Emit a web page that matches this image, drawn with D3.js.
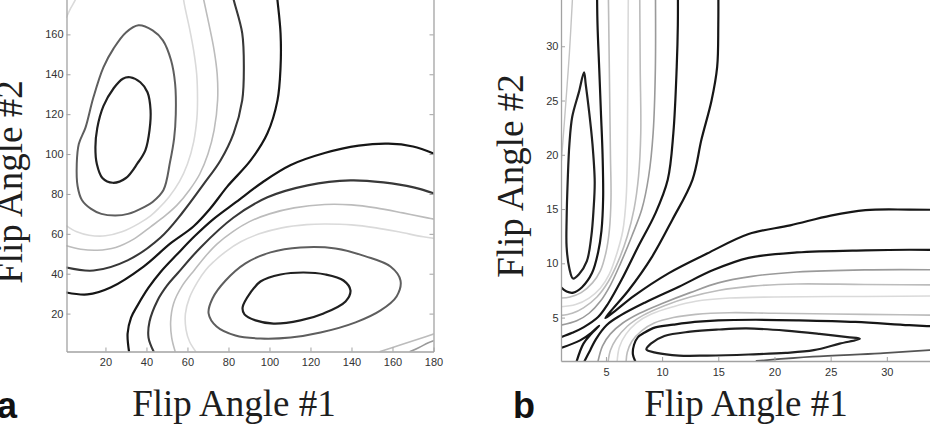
<!DOCTYPE html>
<html>
<head>
<meta charset="utf-8">
<script src="https://cdn.jsdelivr.net/npm/d3@7"></script>
<style>
  body { margin: 0; background: #fff; }
</style>
</head>
<body>
<div id="chart"></div>
<script>
// ---- panel a : contour lines, [flip angle #1, flip angle #2] in degrees ----
const aXTicks = [20, 40, 60, 80, 100, 120, 140, 160, 180];
const aYTicks = [20, 40, 60, 80, 100, 120, 140, 160];

// upper-left lobe
const aUpperInner = [[32,138.5],[37,136],[40.5,131],[42,122],[41.5,112],[39.5,102],[35.6,95.3],[30,88],[23.6,85.6],[18.5,88],[15.8,95],[15.1,103.4],[16,113],[19,124],[24,133],[28.5,137.8]];
const aUpperRing = [[36.1,164.6],[43,162],[48,157],[52,147],[54,135],[54.3,120],[53.5,108],[51.5,96],[48.3,82],[43,76],[38.6,73.3],[31,70],[24.9,69.2],[18,70],[13,72.5],[8.5,77],[6.4,84],[6,95],[7,105],[10.3,113.4],[14,128],[19,143.5],[24,153],[30,161]];
const aUpperPale = [[1,64],[6,61],[12,59.3],[20,59],[28,61],[36,65],[42,69],[46,72.8],[51,78.5],[56,86],[60,95],[63,106],[64.6,118],[64.9,127],[64.5,140],[63,152],[61,163],[58.5,175],[57.5,182]];
const aUpperPaleTop = [[1,168.6],[3,173],[5.4,177.5],[7,182]];
const aUpperLight = [[1,54],[8,52.3],[16,51.8],[25,53.2],[34,57.5],[42,63.5],[49.3,69.2],[55,74.5],[61,82],[66,90],[70,100],[73,112],[74.7,127],[74.5,140],[73,152],[70.5,165],[68,177],[67,182]];
const aUpperDark = [[1,43.1],[14.2,41.6],[30.8,46.7],[46.9,58.2],[57.6,70.7],[67.8,84.8],[76.1,96.8],[82.5,110.4],[86.7,126.9],[87.5,143.5],[86.7,160.6],[82.6,177.1],[81.5,182.1]];
const aUpperBlack = [[1,30.6],[11.2,29.6],[22.5,33.1],[38.6,43.6],[51.7,55.2],[62.9,63.7],[71.2,72.8],[79.5,83.8],[90.8,96.8],[99,110.4],[103.9,126.9],[105.4,143.5],[105.4,160.6],[103.9,177.1],[103.4,182.1]];

// lower-right lobe
const aLowerInner = [[86.9,23.1],[90.8,30.6],[95.6,36.1],[105.4,39.6],[116.6,40.6],[127.3,39.6],[136.1,36.6],[139.5,31.6],[137.1,26.1],[126.4,20.1],[115.1,16.6],[102,15],[93.2,16.6],[87.8,19.6]];
const aLowerRing = [[70.3,20.1],[72.2,27.6],[78.6,36.6],[88.3,45.2],[100.5,50.7],[115.1,53.2],[132.2,52.7],[146.9,48.7],[159,43.6],[163.9,36.6],[162,28.6],[154.2,21.6],[142,15.6],[124.9,10.5],[110.3,8],[95.6,7.5],[83.4,9],[74.2,13.5]];
const aLowerPale = [[64,1],[61,6],[59.3,12],[59,20],[61,28],[65,36],[69,42],[72.8,46],[78.5,51],[86,56],[95,60],[106,63],[118,64.6],[127,64.9],[140,64.5],[152,63],[163,61],[175,58.5],[182,57.5]];
const aLowerPaleCorner = [[168.6,1],[173,3],[177.5,5.4],[182,7]];
const aLowerLight = [[54,1],[52.3,8],[51.8,16],[53.2,25],[57.5,34],[63.5,42],[69.2,49.3],[74.5,55],[82,61],[90,66],[100,70],[112,73],[127,74.7],[140,74.5],[152,73],[165,70.5],[177,68],[182,67]];
const aLowerLightCorner = [[154,1],[163,4],[172,7],[182,10.5]];
const aLowerDark = [[43.5,1],[41,8],[41.5,16],[45.4,26.6],[50,34],[55.1,40.1],[66.4,53.2],[82.5,68.2],[99,78.3],[118.6,84.3],[139.5,86.8],[155.6,85.8],[170.3,83.3],[180,80.3]];
const aLowerBlack = [[31.5,1],[30.8,10],[32.5,18],[35.6,24],[41,33],[47,41],[55.2,50],[63.7,59],[72.8,67.5],[83.8,76],[96.8,86],[110.4,94.5],[126.9,100.5],[143.5,104.2],[158,105.2],[170,103.8],[180,100.3]];

// ---- panel b ----
const bXTicks = [5, 10, 15, 20, 25, 30];
const bYTicks = [5, 10, 15, 20, 25, 30];

// vertical lobe (small flip angle #1)
const bVertPeak = [[3.05,27.6],[2.6,25.8],[2.0,23.5],[1.75,21],[1.6,17.7],[1.5,14],[1.5,11.5],[1.75,9.5],[2.07,8.6],[2.6,9.0],[3.3,10.2],[3.7,12.5],[3.9,15],[4.0,17.5],[3.8,21],[3.5,24],[3.2,26.5]];
const bVertEdge = [[1,19],[1.3,23],[1.55,26.5],[1.75,29.4],[2.0,34],[2.1,36]];
const bVert2 = [[4.2,36],[4.25,32],[4.4,28],[4.55,24],[4.7,20],[4.75,16],[4.6,13],[4.3,11],[3.76,9.1],[2.87,7.8],[2.1,7.3],[1.5,7.4],[1,7.8]];
const bVertA = [[5.2,36],[5.3,28],[5.4,20],[5.45,16],[5.3,13],[5.0,11],[4.5,9.3],[3.8,8.2],[2.8,7.3],[1.8,6.9],[1,6.8]];
const bVertB = [[7.0,36],[6.95,28],[6.9,20],[6.8,16],[6.5,13],[6.0,11],[5.3,9],[4.5,7.7],[3.5,6.8],[2.3,6.2],[1,6.0]];
const bVertC = [[8.0,36],[8.05,28],[8.1,22],[7.9,18],[7.5,15],[6.9,12.5],[6.1,10.2],[5.2,8.3],[4.2,6.9],[3,5.9],[2,5.4],[1,5.2]];
const bVertD = [[9.4,36],[9.4,28],[9.2,22],[8.8,18],[8.2,15],[7.3,12.5],[6.3,10],[5.4,8],[4.5,6.5],[3.5,5.4],[2.4,4.7],[1,4.3]];
const bVert3 = [[11.4,36],[11.4,32],[11.3,28.1],[11,22],[10.5,17.7],[9.4,14.6],[7.85,11.5],[6.4,8.5],[5.2,6.3],[4.3,5.05],[3,4.1],[2,3.6],[1,3.2]];

// horizontal lobe (small flip angle #2)
const bHorzPeak = [[27.6,3.05],[25.8,2.6],[23.5,2.0],[21,1.75],[17.7,1.6],[14,1.5],[11.5,1.5],[9.5,1.75],[8.6,2.07],[9.0,2.6],[10.2,3.3],[12.5,3.7],[15,3.9],[17.5,4.0],[21,3.8],[24,3.5],[26.5,3.2]];
const bHorzEdge = [[18.4,1],[23.4,1.4],[29.4,1.7],[33.8,2.0],[36,2.1]];
const bHorz2 = [[36,4.1],[32,4.3],[27.2,4.6],[22,4.75],[18.3,4.8],[15,4.75],[12.9,4.6],[11,4.35],[9.4,4.1],[8.4,3.6],[7.85,3.2],[7.5,2.5],[7.4,1.6],[7.6,1]];
const bHorzA = [[36,5.2],[28,5.3],[20,5.4],[16,5.45],[13,5.3],[11,5.0],[9.3,4.5],[8.2,3.8],[7.3,2.8],[6.9,1.8],[6.8,1]];
const bHorzB = [[36,7.0],[28,6.95],[20,6.9],[16,6.8],[13,6.5],[11,6.0],[9,5.3],[7.7,4.5],[6.8,3.5],[6.2,2.3],[6.0,1]];
const bHorzC = [[36,8.0],[28,8.05],[22,8.1],[18,7.9],[15,7.5],[12.5,6.9],[10.2,6.1],[8.3,5.2],[6.9,4.2],[5.9,3],[5.4,2],[5.2,1]];
const bHorzD = [[36,9.4],[28,9.4],[22,9.2],[18,8.8],[15,8.2],[12.5,7.3],[10,6.3],[8,5.4],[6.5,4.5],[5.4,3.5],[4.7,2.4],[4.3,1]];
const bHorz3 = [[36,11.2],[32,11.25],[28.1,11.2],[22,11],[17.7,10.5],[14.6,9.4],[11.5,7.85],[8.5,6.4],[6.3,5.2],[5.05,4.3],[4.1,3],[3.6,2],[3.1,1]];

// saddle lines
const bOuter = [[15,36],[15,32],[14.9,28.1],[14.4,25],[13.5,21.4],[12.7,17.7],[10.9,14],[9.1,10.6],[7,7.5],[5.6,5.8],[4.95,4.95],[5.8,5.6],[7.5,7.0],[10.6,9.1],[14,10.9],[17.7,12.7],[21.4,13.5],[25,14.4],[28.1,14.9],[32,14.95],[36,14.9]];
const bCorner = [[1,2.2],[2.7,2.9],[3.7,3.6],[4.4,4.25],[3.7,3.5],[3.0,2.6],[2.4,1]];

// ---- styles for the contour levels ----
const styles = {
  black: { stroke: '#161616', width: 2.2 },
  inner: { stroke: '#202020', width: 2.2 },
  ring:  { stroke: '#5e5e5e', width: 2 },
  dark:  { stroke: '#383838', width: 2.1 },
  pale:  { stroke: '#dadada', width: 1.6 },
  light: { stroke: '#bcbcbc', width: 1.6 },
  mid:   { stroke: '#9a9a9a', width: 1.6 },
  edgeL: { stroke: '#c4c4c4', width: 1.4 },
  edgeD: { stroke: '#555555', width: 1.8 }
};

const svg = d3.select('#chart').append('svg')
  .attr('width', 930)
  .attr('height', 441);

function drawPanel(o) {
  const x = d3.scaleLinear().domain(o.xDomain).range(o.xRange);
  const y = d3.scaleLinear().domain(o.yDomain).range(o.yRange);

  const clipId = 'clip-' + o.id;
  svg.append('clipPath').attr('id', clipId).append('rect')
    .attr('x', o.xRange[0])
    .attr('y', o.yRange[1])
    .attr('width', o.xRange[1] - o.xRange[0])
    .attr('height', o.yRange[0] - o.yRange[1]);

  const body = svg.append('g').attr('clip-path', `url(#${clipId})`);
  o.lines.forEach(l => {
    const line = d3.line()
      .x(d => x(d[0]))
      .y(d => y(d[1]))
      .curve(l.closed ? d3.curveCatmullRomClosed : d3.curveCatmullRom);
    body.append('path')
      .attr('d', line(l.pts))
      .attr('fill', 'none')
      .attr('stroke', styles[l.kind].stroke)
      .attr('stroke-width', styles[l.kind].width)
      .attr('stroke-linejoin', 'round')
      .attr('stroke-linecap', 'round');
  });

  // axes (MATLAB style, ticks pointing inwards)
  const xAxis = svg.append('g')
    .attr('transform', `translate(0,${o.yRange[0]})`)
    .call(d3.axisBottom(x).tickValues(o.xTicks).tickSizeInner(-4).tickSizeOuter(0).tickPadding(o.xPad));
  const yAxis = svg.append('g')
    .attr('transform', `translate(${o.xRange[0]},0)`)
    .call(d3.axisLeft(y).tickValues(o.yTicks).tickSizeInner(-4).tickSizeOuter(0).tickPadding(o.yPad));
  const axes = [xAxis, yAxis];
  if (o.rightAxis) {
    axes.push(svg.append('g')
      .attr('transform', `translate(${o.xRange[1]},0)`)
      .call(d3.axisRight(y).tickValues(o.yTicks).tickSizeInner(-4).tickSizeOuter(0).tickFormat('')));
  }
  axes.forEach(a => {
    a.select('.domain').attr('stroke', '#a2a2a2').attr('stroke-width', 1.3);
    a.selectAll('.tick line').attr('stroke', '#a2a2a2');
    a.selectAll('.tick text')
      .attr('fill', '#333')
      .style('font-family', 'Liberation Sans, Arial, sans-serif')
      .style('font-size', '11px');
  });

  // titles
  svg.append('text')
    .attr('x', o.xTitleX)
    .attr('y', 416)
    .attr('text-anchor', 'middle')
    .style('font-family', 'Liberation Serif, Times New Roman, serif')
    .style('font-size', '37px')
    .attr('fill', '#1e1e1e')
    .text('Flip Angle #1');
  svg.append('text')
    .attr('transform', `translate(${o.yTitle[0]},${o.yTitle[1]}) rotate(-90)`)
    .attr('text-anchor', 'middle')
    .style('font-family', 'Liberation Serif, Times New Roman, serif')
    .style('font-size', '37px')
    .attr('fill', '#1e1e1e')
    .text('Flip Angle #2');
  svg.append('text')
    .attr('x', o.tag[0])
    .attr('y', o.tag[1])
    .style('font-family', 'Liberation Sans, Arial, sans-serif')
    .style('font-size', '36px')
    .style('font-weight', 'bold')
    .attr('fill', '#111')
    .text(o.id);
}

drawPanel({
  id: 'a',
  xDomain: [1, 180], xRange: [66.5, 433.5],
  yDomain: [1, 180], yRange: [351.5, -5.5],
  xTicks: aXTicks, yTicks: aYTicks, xPad: 7, yPad: 3,
  rightAxis: true,
  xTitleX: 234, yTitle: [22, 182], tag: [-3, 418],
  lines: [
    { pts: aUpperInner, closed: true, kind: 'inner' },
    { pts: aUpperRing, closed: true, kind: 'ring' },
    { pts: aUpperPale, kind: 'pale' },
    { pts: aUpperPaleTop, kind: 'pale' },
    { pts: aUpperLight, kind: 'light' },
    { pts: aUpperDark, kind: 'dark' },
    { pts: aUpperBlack, kind: 'black' },
    { pts: aLowerInner, closed: true, kind: 'inner' },
    { pts: aLowerRing, closed: true, kind: 'ring' },
    { pts: aLowerPale, kind: 'pale' },
    { pts: aLowerPaleCorner, kind: 'mid' },
    { pts: aLowerLight, kind: 'light' },
    { pts: aLowerLightCorner, kind: 'light' },
    { pts: aLowerDark, kind: 'dark' },
    { pts: aLowerBlack, kind: 'black' }
  ]
});

drawPanel({
  id: 'b',
  xDomain: [1, 35], xRange: [561, 943],
  yDomain: [1, 35], yRange: [361, -8],
  xTicks: bXTicks, yTicks: bYTicks, xPad: 7, yPad: 2.5,
  rightAxis: false,
  xTitleX: 746, yTitle: [523, 176], tag: [513, 418],
  lines: [
    { pts: bVertPeak, closed: true, kind: 'inner' },
    { pts: bVertEdge, kind: 'edgeL' },
    { pts: bVert2, kind: 'black' },
    { pts: bVertA, kind: 'light' },
    { pts: bVertB, kind: 'pale' },
    { pts: bVertC, kind: 'light' },
    { pts: bVertD, kind: 'mid' },
    { pts: bVert3, kind: 'black' },
    { pts: bHorzPeak, closed: true, kind: 'inner' },
    { pts: bHorzEdge, kind: 'edgeD' },
    { pts: bHorz2, kind: 'black' },
    { pts: bHorzA, kind: 'light' },
    { pts: bHorzB, kind: 'pale' },
    { pts: bHorzC, kind: 'light' },
    { pts: bHorzD, kind: 'mid' },
    { pts: bHorz3, kind: 'black' },
    { pts: bOuter, kind: 'black' },
    { pts: bCorner, kind: 'black' }
  ]
});
</script>
</body>
</html>
